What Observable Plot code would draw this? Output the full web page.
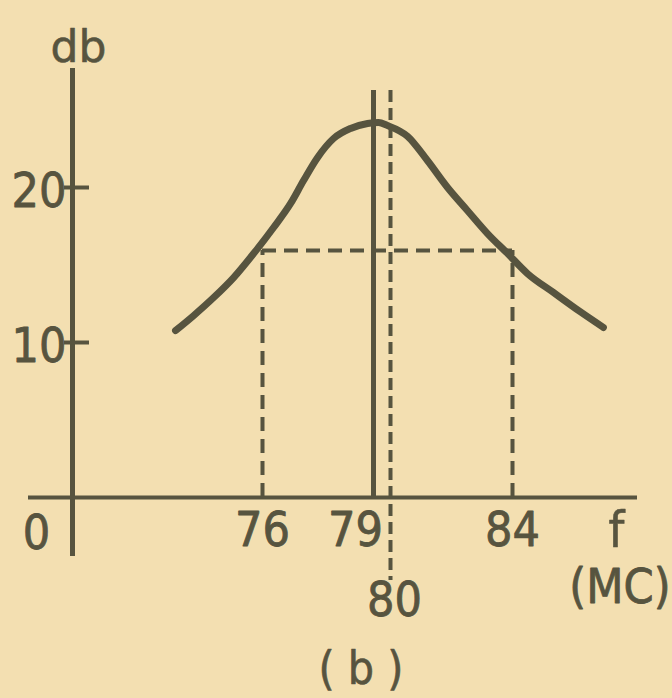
<!DOCTYPE html>
<html><head><meta charset="utf-8">
<script src="https://cdn.jsdelivr.net/npm/d3@7"></script>
<script src="https://cdn.jsdelivr.net/npm/@observablehq/plot@0.6"></script>
<style>
html,body{margin:0;padding:0;background:#f3dfb1;}
#chart svg{display:block;}
</style></head><body><div id="chart"></div>
<script>
// Response curve: frequency (MC) vs gain (db)
const freq = [73.65, 74.14, 74.68, 75.22, 75.76, 76.30, 76.76, 77.11, 77.49, 77.92, 78.38, 78.84, 79.29, 79.82, 80.56, 81.21, 81.87, 82.52, 83.18, 83.84, 84.49, 85.34, 86.23, 86.98];
const gain = [10.77, 11.74, 12.90, 14.19, 15.74, 17.42, 18.97, 20.45, 21.94, 23.16, 23.81, 24.13, 24.19, 24.00, 23.30, 21.74, 20.00, 18.52, 17.03, 15.74, 14.45, 13.23, 11.97, 10.97];
const bandEdges = [76, 84];
const bandLevel = 15.94;
const resonance = [79];
const centre = [80];
const yTicks = [10, 20];
const xTicksMain = [76, 84];
const origin = [0];

const ink = "#57543f";
const numFont = "'DejaVu Sans Condensed', 'DejaVu Sans', sans-serif";
const curveData = freq.map((f, i) => ({f, g: gain[i]}));
const num = {fill: ink, stroke: ink, strokeWidth: 0.8, fontSize: 48, fontFamily: numFont};

const chart = Plot.plot({
  width: 672,
  height: 698,
  marginLeft: 72,
  marginRight: 35,
  marginTop: 70,
  marginBottom: 145,
  style: {background: "transparent", color: ink},
  x: {type: "linear", domain: [76, 79, 80, 84], range: [262, 373, 390, 512], axis: null},
  y: {type: "linear", domain: [0, 20], range: [497, 187], axis: null},
  marks: [
    // y axis line
    Plot.frame({anchor: "left", stroke: ink, strokeWidth: 5}),
    // x axis line
    Plot.ruleY(origin, {stroke: ink, strokeWidth: 4, insetLeft: -44}),
    // y ticks
    Plot.ruleY(yTicks, {stroke: ink, strokeWidth: 4, insetLeft: -8, insetRight: 548}),
    Plot.text(yTicks, {y: d => d, text: d => String(d), frameAnchor: "left", textAnchor: "end", dx: -6, dy: 4, ...num}),
    Plot.text(origin, {y: d => d, text: d => String(d), frameAnchor: "left", textAnchor: "middle", dx: -36, dy: 36, ...num}),
    // vertical lines at 79 (solid) and 80 (dashed)
    Plot.ruleX(resonance, {stroke: ink, strokeWidth: 5, insetTop: 20, insetBottom: 56}),
    Plot.ruleX(centre, {stroke: ink, strokeWidth: 4, strokeDasharray: "12,6", insetTop: 20, insetBottom: -27}),
    // band edges
    Plot.ruleX(bandEdges, {y1: 0, y2: bandLevel, stroke: ink, strokeWidth: 4, strokeDasharray: "14,8"}),
    Plot.ruleY([bandLevel], {x1: bandEdges[0], x2: bandEdges[1], stroke: ink, strokeWidth: 4, strokeDasharray: "14,8"}),
    // curve
    Plot.line(curveData, {x: "f", y: "g", curve: "monotone-x", stroke: ink, strokeWidth: 7, strokeLinecap: "round"}),
    // x tick labels
    Plot.text(xTicksMain, {x: d => d, y: origin[0], text: d => String(d), dy: 33, ...num}),
    Plot.text(resonance, {x: d => d, y: origin[0], text: d => String(d), dx: -18, dy: 33, ...num}),
    Plot.text(centre, {x: d => d, y: origin[0], text: d => String(d), dx: 4, dy: 103, ...num}),
    // axis titles
    Plot.text(["db"], {frameAnchor: "top-left", textAnchor: "middle", text: d => d, dx: 6, dy: -40, fill: ink, stroke: ink, strokeWidth: 0.6, fontSize: 44, fontFamily: "'DejaVu Sans', sans-serif"}),
    Plot.text(["f"], {frameAnchor: "right", y: origin[0], text: d => d, textAnchor: "middle", dx: -21, dy: 33, fill: ink, stroke: ink, strokeWidth: 0.6, fontSize: 50, fontFamily: numFont}),
    Plot.text(["(MC)"], {frameAnchor: "right", y: origin[0], text: d => d, textAnchor: "end", dx: 33, dy: 90, ...num, fontSize: 48}),
    Plot.text(["( b )"], {frameAnchor: "bottom", text: d => d, dx: 6, dy: 130, fill: ink, stroke: ink, strokeWidth: 0.6, fontSize: 46, fontFamily: numFont})
  ]
});
document.getElementById("chart").append(chart);
</script>
</body></html>
